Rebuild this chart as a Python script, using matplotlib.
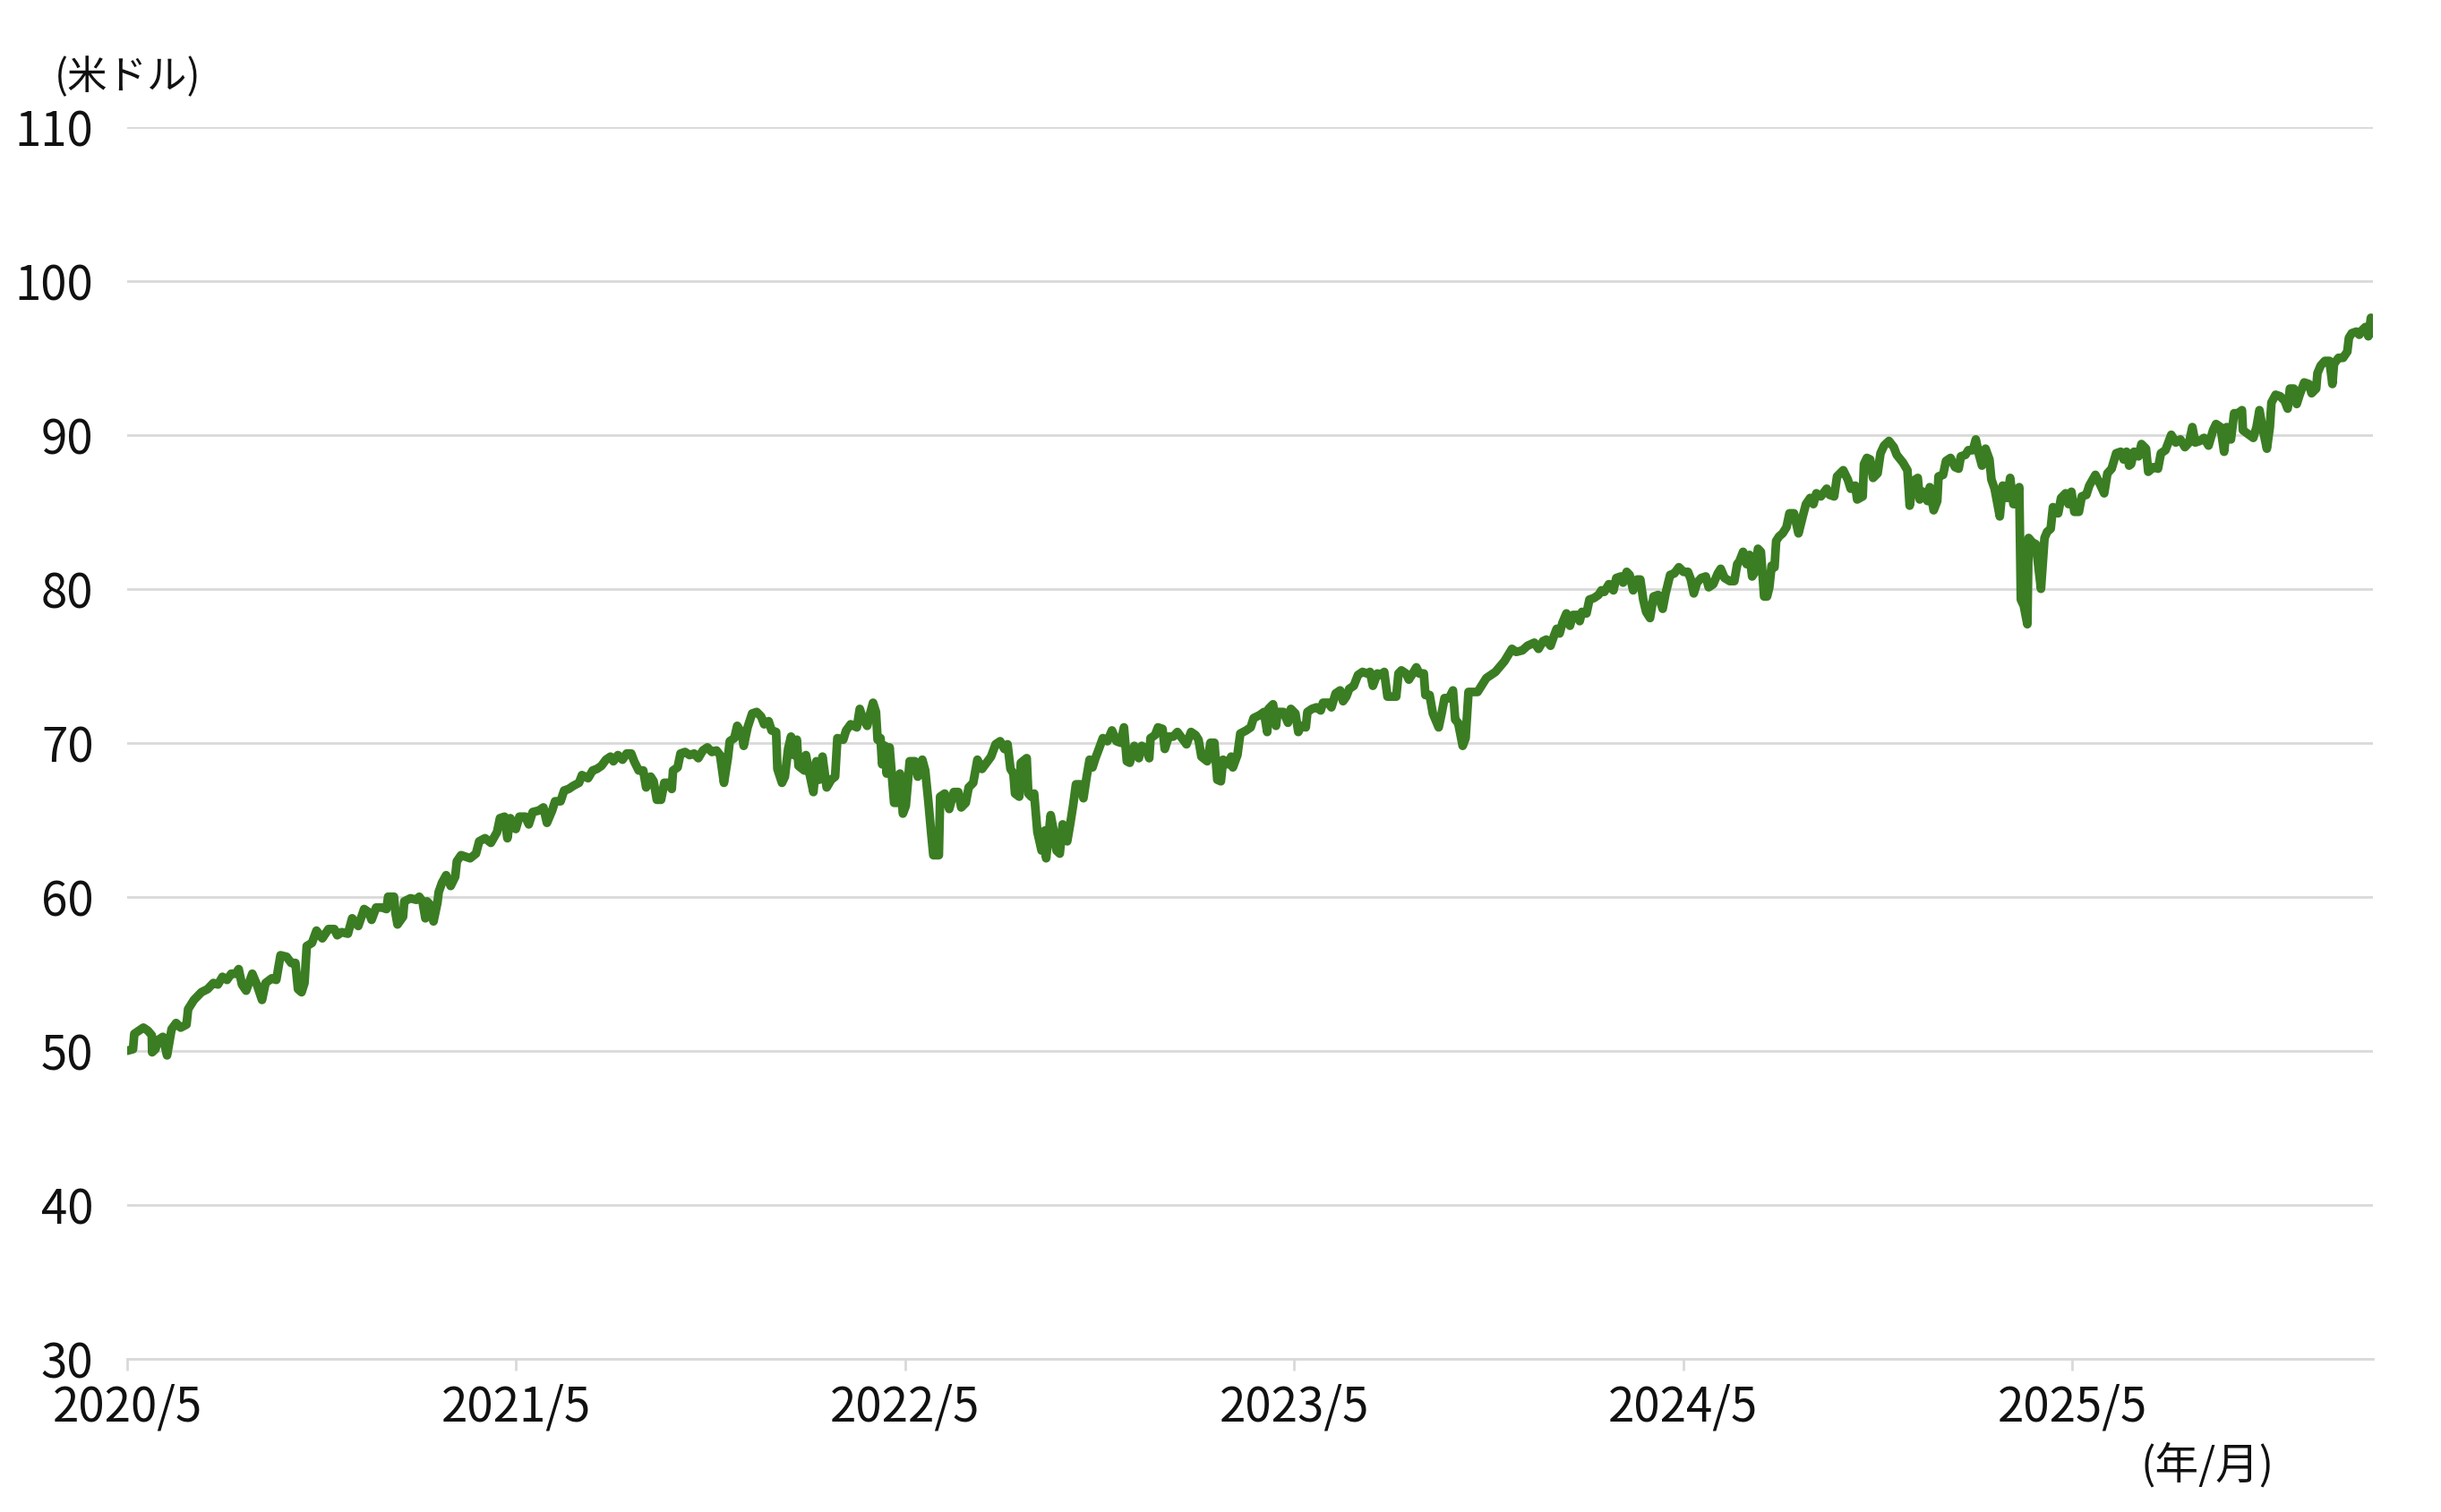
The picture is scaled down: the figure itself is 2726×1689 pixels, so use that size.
import matplotlib
matplotlib.use("Agg")
import matplotlib.pyplot as plt
import numpy as np

plt.rcParams['font.family'] = ['Noto Sans CJK JP', 'DejaVu Sans']

# 月数(2020/5 起点)と価格(米ドル)、区間ごとに読み取り
months_a = [0.00, 0.18, 0.22, 0.36, 0.50, 0.64, 0.76, 0.77, 0.87, 0.96, 1.10, 1.23, 1.37, 1.51, 1.65, 1.83,
            1.88, 2.06, 2.29, 2.48, 2.66, 2.80, 2.94, 3.08, 3.21, 3.35, 3.44, 3.54, 3.67, 3.86, 4.00, 4.16,
            4.27, 4.46, 4.60, 4.73, 4.92, 5.06, 5.19, 5.27, 5.38, 5.47, 5.54, 5.70, 5.84, 6.02, 6.21, 6.39,
            6.48, 6.62, 6.81, 6.94, 7.13, 7.31, 7.45, 7.54, 7.68, 7.86, 8.00, 8.05, 8.23, 8.28, 8.34, 8.51,
            8.55, 8.74, 8.92, 9.01, 9.11, 9.20, 9.25, 9.34, 9.45, 9.57, 9.61, 9.71, 9.84, 9.98, 10.12, 10.17,
            10.30]
price_a = [50.0, 50.1, 51.1, 51.3, 51.5, 51.3, 51.0, 49.9, 50.1, 50.7, 50.9, 49.7, 51.4, 51.8, 51.5, 51.7,
           52.7, 53.3, 53.8, 54.0, 54.4, 54.3, 54.8, 54.6, 55.0, 55.0, 55.3, 54.3, 53.9, 55.0, 54.3, 53.3,
           54.4, 54.7, 54.6, 56.2, 56.1, 55.7, 55.7, 54.0, 53.8, 54.4, 56.8, 57.0, 57.8, 57.3, 57.9, 57.9,
           57.5, 57.7, 57.6, 58.6, 58.1, 59.2, 59.0, 58.5, 59.3, 59.3, 59.2, 60.0, 60.0, 58.9, 58.2, 58.7,
           59.7, 59.9, 59.8, 60.0, 59.7, 58.6, 59.7, 59.5, 58.4, 59.6, 60.3, 60.9, 61.4, 60.7, 61.3, 62.3,
           62.7]

months_b = [10.44, 10.58, 10.76, 10.86, 11.04, 11.22, 11.41, 11.50, 11.64, 11.73,
            11.82, 11.99, 12.10, 12.28, 12.39, 12.51, 12.70, 12.84, 12.95, 13.11,
            13.20, 13.37, 13.48, 13.62, 13.76, 13.94, 14.03, 14.22, 14.36, 14.49,
            14.63, 14.77, 14.91, 15.00, 15.14, 15.28, 15.41, 15.55, 15.64, 15.78,
            15.92, 16.01, 16.15, 16.24, 16.34, 16.47, 16.57, 16.70, 16.80, 16.84,
            16.98, 17.07, 17.21, 17.35, 17.49, 17.62, 17.76, 17.90, 18.04, 18.18,
            18.29, 18.41, 18.53, 18.59, 18.73, 18.82, 18.96, 19.02, 19.14, 19.28,
            19.42, 19.56, 19.65, 19.79, 19.88, 20.02, 20.06, 20.20, 20.29, 20.39,
            20.48, 20.57, 20.66, 20.71, 20.89]
price_b = [62.6, 62.5, 62.8, 63.6, 63.8, 63.5, 64.2, 65.1, 65.2, 63.8,
           65.1, 64.4, 65.2, 65.2, 64.7, 65.5, 65.6, 65.8, 64.8, 65.6,
           66.2, 66.2, 66.9, 67.0, 67.2, 67.4, 67.9, 67.7, 68.2, 68.3,
           68.5, 68.9, 69.1, 68.8, 69.2, 68.9, 69.3, 69.3, 68.8, 68.2,
           68.2, 67.1, 67.8, 67.5, 66.3, 66.3, 67.4, 67.4, 67.0, 68.2,
           68.4, 69.3, 69.4, 69.2, 69.3, 69.0, 69.5, 69.7, 69.4, 69.5,
           69.2, 67.4, 69.0, 70.1, 70.3, 71.1, 70.6, 69.8, 71.0, 71.9,
           72.0, 71.7, 71.2, 71.4, 70.8, 70.7, 68.3, 67.4, 67.8, 69.6,
           70.4, 69.2, 70.2, 68.5, 68.2]

months_c = [20.94, 21.03, 21.17, 21.26, 21.35, 21.45, 21.58, 21.72, 21.84, 21.91,
            22.09, 22.18, 22.32, 22.51, 22.60, 22.69, 22.83, 22.92, 23.01, 23.10,
            23.15, 23.24, 23.29, 23.38, 23.43, 23.52, 23.66, 23.75, 23.84, 23.93,
            24.02, 24.14, 24.30, 24.39, 24.53, 24.62, 24.72, 24.81, 24.87, 25.04,
            25.08, 25.22, 25.36, 25.50, 25.64, 25.73, 25.87, 25.96, 26.10, 26.23,
            26.37, 26.51, 26.65, 26.79, 26.93, 27.06, 27.16, 27.25, 27.34, 27.39,
            27.52, 27.57, 27.75, 27.80, 27.89, 27.98, 28.08, 28.21, 28.31, 28.35,
            28.49, 28.58, 28.67, 28.77, 28.86, 29.00, 29.09, 29.18, 29.27, 29.41,
            29.50, 29.60, 29.69, 29.78, 29.87, 29.96, 30.10, 30.24, 30.38, 30.52,
            30.65, 30.75, 30.84]
price_c = [69.2, 68.2, 66.8, 68.8, 67.6, 69.1, 67.1, 67.6, 67.8, 70.3,
           70.2, 70.8, 71.2, 71.0, 72.2, 71.6, 71.1, 71.9, 72.6, 72.0,
           70.2, 70.3, 68.6, 69.8, 68.0, 69.7, 66.1, 66.1, 68.0, 65.4,
           65.9, 68.8, 68.8, 67.8, 68.9, 68.2, 66.1, 64.0, 62.7, 62.7,
           66.5, 66.7, 65.7, 66.8, 66.8, 65.8, 66.1, 67.1, 67.4, 68.9,
           68.3, 68.7, 69.1, 69.9, 70.1, 69.6, 69.9, 68.3, 68.0, 66.7,
           66.5, 68.7, 69.0, 66.7, 66.5, 66.7, 64.2, 63.0, 64.3, 62.5,
           65.3, 64.3, 63.0, 62.8, 64.7, 63.6, 64.7, 65.9, 67.3, 67.3,
           66.4, 67.8, 68.9, 68.4, 69.0, 69.5, 70.3, 70.1, 70.8, 70.1,
           70.0, 71.0, 68.8]

months_d = [30.93, 31.07, 31.21, 31.30, 31.44, 31.53, 31.57, 31.71, 31.80, 31.94,
            32.01, 32.13, 32.27, 32.40, 32.54, 32.68, 32.82, 32.96, 33.05, 33.14,
            33.32, 33.42, 33.54, 33.63, 33.74, 33.81, 33.97, 34.06, 34.11, 34.25,
            34.34, 34.52, 34.66, 34.75, 34.94, 35.07, 35.17, 35.21, 35.35, 35.44,
            35.49, 35.67, 35.81, 35.90, 36.04, 36.13, 36.22, 36.36, 36.41, 36.55,
            36.69, 36.82, 36.89, 37.05, 37.15, 37.28, 37.42, 37.51, 37.61, 37.70,
            37.84, 37.97, 38.11, 38.25, 38.34, 38.43, 38.57, 38.66, 38.78, 38.88,
            39.03, 39.15, 39.22, 39.31, 39.45, 39.54, 39.63, 39.77, 39.86, 40.00,
            40.05, 40.18, 40.28, 40.46, 40.55, 40.64, 40.78, 40.90, 40.97, 41.06,
            41.20, 41.29, 41.38]
price_d = [68.7, 69.8, 69.0, 69.8, 69.6, 69.0, 70.3, 70.5, 71.0, 70.9,
           69.6, 70.4, 70.4, 70.7, 70.3, 69.9, 70.7, 70.5, 70.2, 69.1,
           68.8, 70.0, 70.0, 67.6, 67.5, 68.9, 68.6, 69.1, 68.4, 69.2,
           70.6, 70.8, 71.0, 71.6, 71.8, 72.0, 70.7, 72.2, 72.5, 71.1,
           72.0, 72.0, 71.3, 72.2, 71.9, 70.7, 71.1, 71.0, 72.0, 72.2,
           72.3, 72.1, 72.6, 72.6, 72.3, 73.2, 73.4, 72.7, 73.0, 73.5,
           73.7, 74.4, 74.6, 74.5, 74.6, 73.7, 74.5, 74.4, 74.6, 73.0,
           73.0, 73.0, 74.5, 74.7, 74.5, 74.1, 74.4, 74.9, 74.5, 74.5,
           73.1, 73.1, 71.9, 71.0, 71.9, 72.9, 72.9, 73.4, 71.5, 71.3,
           69.8, 70.3, 73.3]

months_e = [41.66, 41.93, 42.21, 42.49,
            42.72, 42.85, 43.04, 43.20, 43.41, 43.54, 43.68, 43.78, 43.91, 44.01,
            44.10, 44.19, 44.28, 44.40, 44.51, 44.60, 44.74, 44.81, 44.88, 45.02,
            45.11, 45.25, 45.39, 45.48, 45.57, 45.71, 45.85, 45.94, 46.08, 46.15,
            46.26, 46.35, 46.46, 46.58, 46.68, 46.77, 46.86, 46.98, 47.09, 47.23,
            47.37, 47.46, 47.60, 47.73, 47.87, 48.01, 48.15, 48.24, 48.33, 48.43,
            48.56, 48.70, 48.79, 48.93, 49.07, 49.16, 49.28, 49.44, 49.58, 49.67,
            49.74, 49.85, 49.96, 50.05, 50.13, 50.22, 50.31, 50.40, 50.50, 50.59,
            50.66, 50.73, 50.82, 50.87, 50.96, 51.07, 51.19, 51.28]
price_e = [73.3, 74.2, 74.6, 75.3,
           76.1, 75.9, 76.0, 76.3, 76.5, 76.1, 76.6, 76.7, 76.3, 76.9,
           77.4, 77.1, 77.8, 78.4, 77.6, 78.3, 78.3, 77.9, 78.5, 78.4,
           79.3, 79.4, 79.6, 79.9, 79.8, 80.3, 79.9, 80.7, 80.8, 80.4,
           81.1, 80.9, 79.9, 80.6, 80.6, 79.3, 78.5, 78.1, 79.5, 79.6,
           78.7, 79.7, 80.9, 81.0, 81.4, 81.1, 81.1, 80.6, 79.7, 80.4,
           80.7, 80.8, 80.1, 80.3, 81.0, 81.3, 80.7, 80.5, 80.5, 81.6,
           81.8, 82.4, 81.6, 82.2, 80.8, 81.1, 82.6, 82.4, 79.5, 79.5,
           80.1, 81.5, 81.4, 83.1, 83.4, 83.6, 84.0, 84.9]

months_f = [51.42, 51.56, 51.69, 51.79, 51.92, 52.02, 52.11, 52.25, 52.43, 52.52,
            52.66, 52.75, 52.94, 53.08, 53.17, 53.31, 53.37, 53.54, 53.58, 53.67,
            53.77, 53.86, 54.00, 54.09, 54.20, 54.35, 54.50, 54.59, 54.78, 54.92,
            54.99, 55.10, 55.24, 55.30, 55.42, 55.54, 55.61, 55.73, 55.84, 55.88,
            56.02, 56.11, 56.25, 56.39, 56.50, 56.57, 56.71, 56.80, 56.94, 57.03,
            57.13, 57.22, 57.33, 57.45, 57.51, 57.61, 57.68, 57.77, 57.86, 58.00,
            58.09, 58.19, 58.28, 58.37, 58.42, 58.51, 58.62, 58.66, 58.78, 58.88,
            59.04, 59.15, 59.23, 59.34, 59.41, 59.57, 59.66, 59.80, 59.89, 59.98,
            60.07, 60.21, 60.30, 60.44, 60.53, 60.72, 60.86, 60.99, 61.09, 61.22,
            61.36, 61.50, 61.59, 61.68, 61.76]
price_f = [84.9, 83.6, 84.7, 85.5, 85.9, 85.5, 86.2, 86.0, 86.5, 86.1,
           86.0, 87.3, 87.7, 87.1, 86.5, 86.7, 85.8, 86.0, 88.1, 88.5,
           88.4, 87.2, 87.5, 88.8, 89.3, 89.6, 89.2, 88.7, 88.2, 87.7,
           85.4, 87.0, 87.2, 85.8, 86.3, 85.7, 86.6, 85.1, 85.7, 87.3,
           87.4, 88.3, 88.5, 87.9, 87.8, 88.6, 88.7, 89.0, 89.0, 89.7,
           88.7, 88.0, 89.1, 88.4, 87.1, 86.5, 85.7, 84.7, 86.7, 85.9,
           87.2, 85.5, 85.5, 86.6, 79.3, 78.9, 77.7, 83.3, 83.0, 82.9,
           80.0, 83.3, 83.7, 83.9, 85.3, 84.9, 85.9, 86.2, 85.5, 86.3,
           85.0, 85.0, 86.0, 86.1, 86.7, 87.4, 86.8, 86.2, 87.5, 87.8,
           88.8, 88.9, 88.4, 88.9, 88.0]

months_g = [61.82, 61.91, 62.05, 62.14, 62.28, 62.35, 62.51, 62.65, 62.74, 62.88,
            63.06, 63.20, 63.34, 63.48, 63.61, 63.71, 63.80, 63.94, 64.07, 64.21,
            64.35, 64.44, 64.58, 64.69, 64.77, 64.90, 65.00, 65.13, 65.24, 65.27,
            65.46, 65.59, 65.69, 65.78, 65.87, 66.01, 66.10, 66.15, 66.28, 66.42,
            66.56, 66.65, 66.72, 66.84, 66.93, 67.02, 67.16, 67.30, 67.39, 67.53,
            67.57, 67.67, 67.80, 67.94, 68.03, 68.08, 68.22, 68.36, 68.49, 68.54,
            68.63, 68.77, 68.86, 68.95, 69.05, 69.14, 69.22, 69.28]
price_g = [88.1, 88.9, 88.6, 89.4, 89.1, 87.6, 87.9, 87.8, 88.8, 89.0,
           90.0, 89.5, 89.7, 89.2, 89.5, 90.5, 89.5, 89.6, 89.8, 89.3,
           90.3, 90.7, 90.5, 88.9, 90.5, 89.7, 91.4, 91.4, 91.6, 90.3,
           90.0, 89.8, 90.5, 91.6, 90.5, 89.1, 90.5, 92.1, 92.6, 92.5,
           92.2, 91.7, 93.0, 93.0, 92.0, 92.6, 93.4, 93.3, 92.7, 93.0,
           94.0, 94.5, 94.8, 94.8, 93.3, 94.6, 95.0, 95.0, 95.4, 96.3,
           96.6, 96.7, 96.5, 96.8, 97.0, 96.4, 97.6, 96.6]

tick_months = [0, 12, 24, 36, 48, 60]
tick_labels = ['2020/5', '2021/5', '2022/5', '2023/5', '2024/5', '2025/5']
y_ticks = [30, 40, 50, 60, 70, 80, 90, 100, 110]

months = np.concatenate([months_a, months_b, months_c, months_d, months_e, months_f, months_g])
price = np.concatenate([price_a, price_b, price_c, price_d, price_e, price_f, price_g])

grid_col = '#d9d9d9'
fig = plt.figure(figsize=(27.26, 16.89), dpi=100)
ax = fig.add_axes([0.0521, 0.1014, 0.9200, 0.8147])

ax.plot(months, price, color='#3b7d23', lw=7, solid_joinstyle='round', solid_capstyle='round', zorder=3)

ax.set_xlim(0, 69.28)
ax.set_ylim(30, 110)
ax.set_yticks(y_ticks)
ax.set_xticks(tick_months)
ax.set_xticklabels(tick_labels)
ax.yaxis.grid(True, color=grid_col, lw=2)
ax.set_axisbelow(True)

for s in ['top', 'right', 'left']:
    ax.spines[s].set_visible(False)
ax.spines['bottom'].set_color(grid_col)
ax.spines['bottom'].set_linewidth(2)

ax.tick_params(axis='y', length=0, pad=27, labelsize=38, labelcolor='#111111')
ax.tick_params(axis='x', length=9.4, width=2, color=grid_col, pad=10, labelsize=38, labelcolor='#111111')

fig.text(0.0224, 0.949, '(米ドル)', fontsize=32, ha='left', va='center', color='#111111')
fig.text(0.9318, 0.0308, '(年/月)', fontsize=35, ha='right', va='center', color='#111111')

fig.savefig('out.png', dpi=100, facecolor='white')
